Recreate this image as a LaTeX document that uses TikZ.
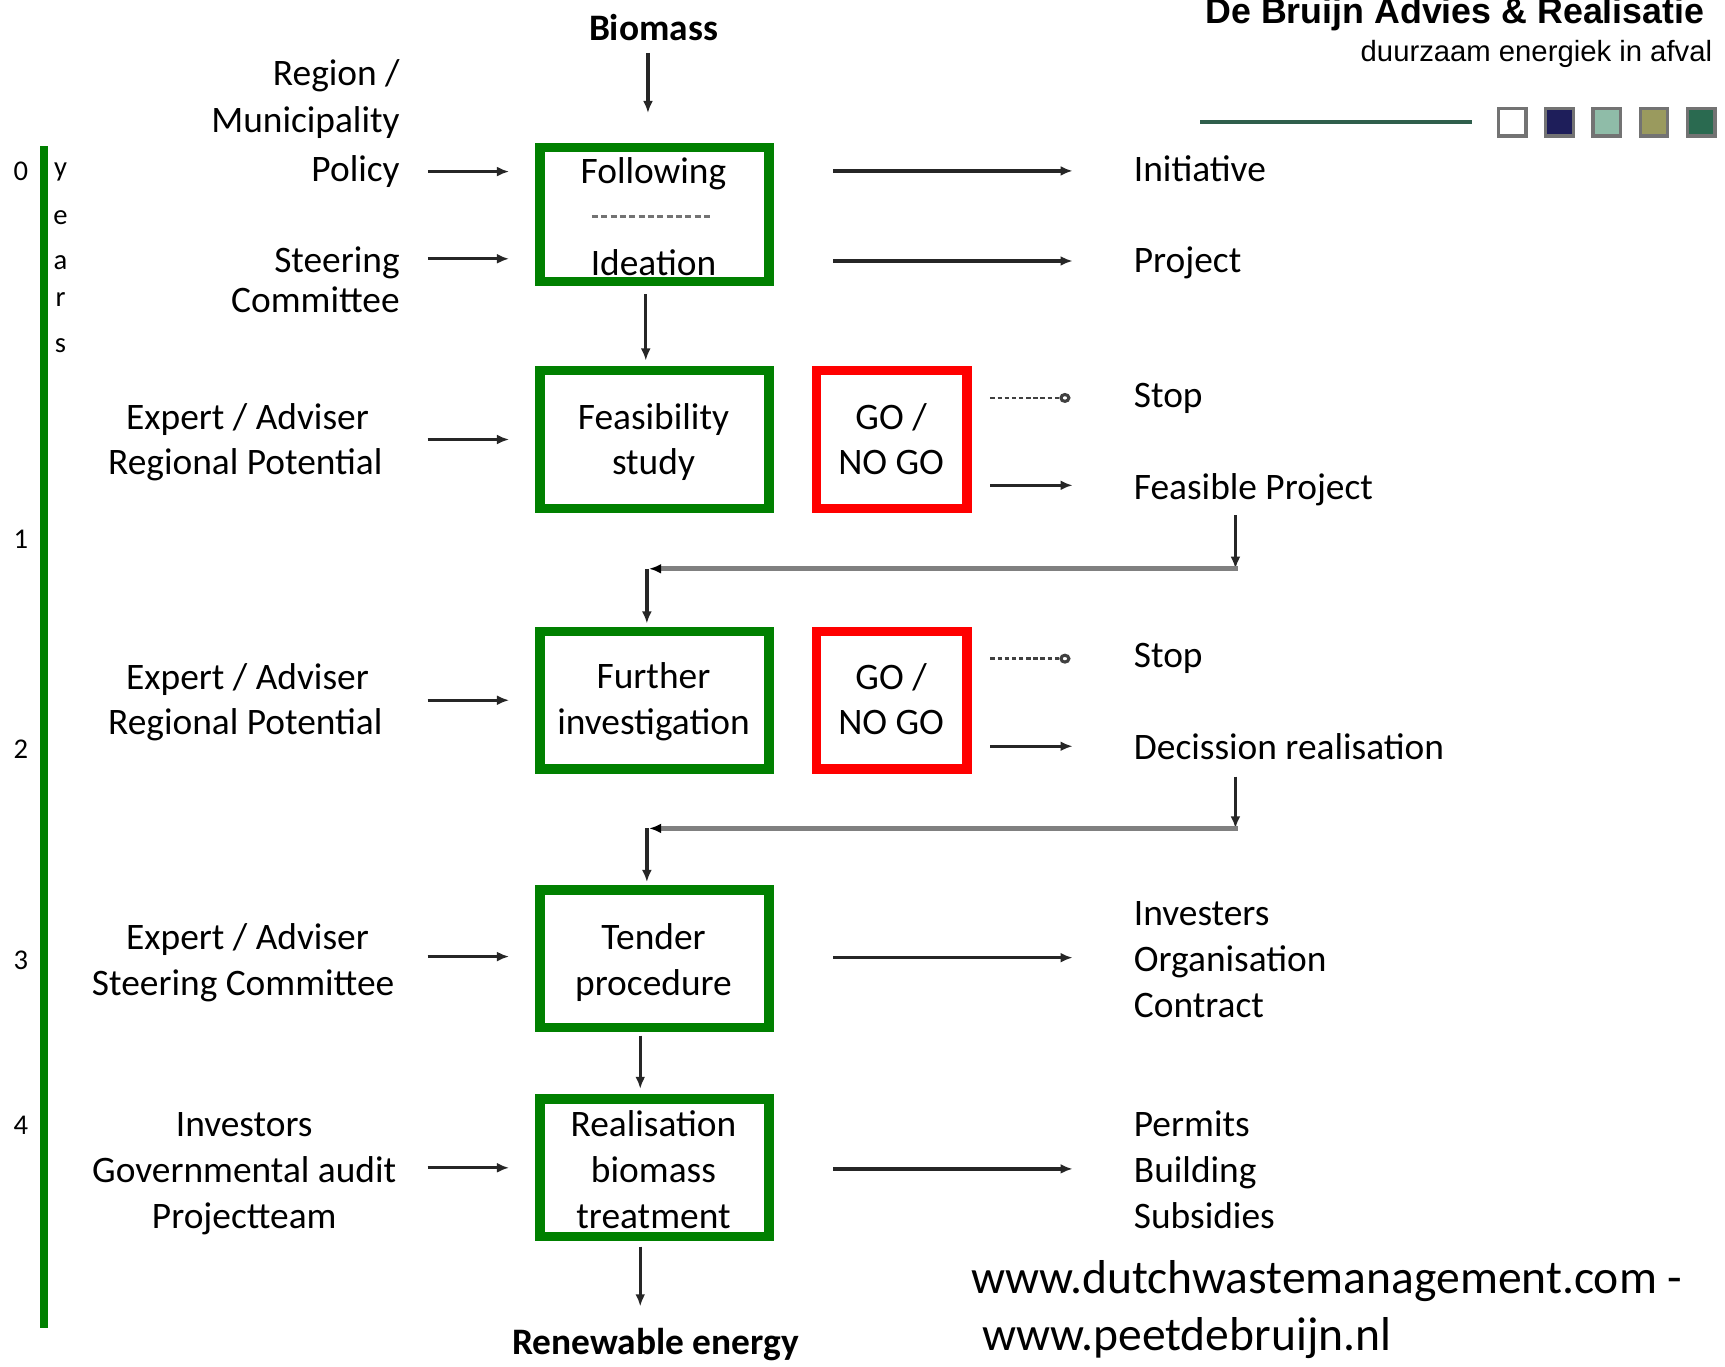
\documentclass[tikz,border=0pt]{standalone}
\usepackage{fontspec}
\setmainfont{Carlito}
\newfontfamily\hdrfont{Liberation Sans}
\usetikzlibrary{arrows.meta,calc}
\definecolor{boxgreen}{HTML}{008000}
\definecolor{boxred}{HTML}{FF0000}
\definecolor{loopgrey}{HTML}{808080}
\definecolor{hdrline}{HTML}{2F5F4C}
\definecolor{sqnavy}{HTML}{1E1E5A}
\definecolor{sqteal}{HTML}{8FBCA8}
\definecolor{sqolive}{HTML}{9A9A5E}
\definecolor{sqgreen}{HTML}{2A6A50}
\newcommand\mainfs{\fontsize{9.67pt}{11.95pt}\selectfont}
\newcommand\yrfs{\fontsize{7.4pt}{9pt}\selectfont}
\newcommand\urlfs{\fontsize{12.3pt}{14.8pt}\selectfont}
\newcommand\hdrfs{\hdrfont\bfseries\fontsize{9.25pt}{11pt}\selectfont}
\newcommand\subfs{\hdrfont\fontsize{7.57pt}{9pt}\selectfont}
\begin{document}
\begin{tikzpicture}[x=0.1mm,y=-0.1mm,
  lbl/.style={inner sep=0pt,font=\mainfs,anchor=base,yshift=-0.2mm},
  lblw/.style={lbl,anchor=base west},
  lble/.style={lbl,anchor=base east},
  yr/.style={inner sep=0pt,font=\yrfs,anchor=base},
  gbox/.style={draw=boxgreen,line width=0.85mm,minimum width=20.8mm,minimum height=12.5mm,inner sep=0pt},
  rbox/.style={draw=boxred,line width=0.85mm,minimum width=13.7mm,minimum height=12.5mm,inner sep=0pt},
  arr/.style={draw=black!85,line width=0.3mm,-{Latex[length=1.1mm,width=0.9mm]}},
  stopline/.style={draw=black!75,line width=0.25mm,dash pattern=on 0.4mm off 0.25mm,-{Circle[open,length=1mm,width=0.9mm,line width=0.28mm]}},
  loopline/.style={draw=loopgrey,line width=0.45mm,-{Latex[length=1.1mm,width=0.9mm,color=black]}},
  sq/.style={draw=black!55,line width=0.3mm}]
\useasboundingbox[fill=white] (0,0) rectangle (1568,1242);

% header
\node[inner sep=0pt,font=\hdrfs,anchor=base east] (hdr) at (1550,21) {De Bruijn Advies \& Realisatie};
\node[inner sep=0pt,font=\subfs,anchor=base east] (sub) at (1557,56) {duurzaam energiek in afval};
\draw[hdrline,line width=0.3mm] (1091,111) -- (1338,111);
\draw[sq,fill=white]   (1362,98.5) rectangle (1387,123.5);
\draw[sq,fill=sqnavy]  (1405,98.5) rectangle (1430,123.5);
\draw[sq,fill=sqteal]  (1448,98.5) rectangle (1473,123.5);
\draw[sq,fill=sqolive] (1491,98.5) rectangle (1516,123.5);
\draw[sq,fill=sqgreen] (1534,98.5) rectangle (1559,123.5);

% time axis
\draw[boxgreen,line width=0.8mm] (40,133) -- (40,1207);
\node[yr] (y0) at (19,164) {0};
\node[yr] (y1) at (19,499) {1};
\node[yr] (y2) at (19,689) {2};
\node[yr] (y3) at (19,881) {3};
\node[yr] (y4) at (19,1031) {4};
\node[yr] (ly) at (55,160) {y};
\node[yr] (le) at (55,204) {e};
\node[yr] (la) at (55,245) {a};
\node[yr] (lr) at (55,279) {r};
\node[yr] (ls) at (55,320) {s};

% boxes
\node[gbox,minimum height=12.2mm] (b1) at (595,195) {};
\node[gbox] (b2) at (595,399.5) {};
\node[gbox] (b3) at (595,636.5) {};
\node[gbox] (b4) at (595,871.5) {};
\node[gbox] (b5) at (595,1061.5) {};
\node[rbox] (r1) at (810.5,399.5) {};
\node[rbox] (r2) at (810.5,636.5) {};

% box texts
\node[lbl] (fol) at (594,165) {Following};
\draw[black!55,line width=0.25mm,dash pattern=on 0.55mm off 0.3mm] ($(b1.center)+(-57,2)$) -- ($(b1.center)+(53,2)$);
\node[lbl] (ide) at (594,248) {Ideation};
\node[lbl] (fea) at (594,388) {Feasibility};
\node[lbl] (stu) at (594,429) {study};
\node[lbl] (fur) at (594,624) {Further};
\node[lbl] (inv) at (594,666) {investigation};
\node[lbl] (ten) at (594,861) {Tender};
\node[lbl] (pro) at (594,903) {procedure};
\node[lbl] (rea) at (594,1031) {Realisation};
\node[lbl] (bio2) at (594,1073) {biomass};
\node[lbl] (tre) at (594,1115) {treatment};
\node[lbl] (go1) at (810,388) {GO /};
\node[lbl] (ng1) at (810,429) {NO GO};
\node[lbl] (go2) at (810,625) {GO /};
\node[lbl] (ng2) at (810,666) {NO GO};

% top / bottom
\node[lbl,font=\mainfs\bfseries] (bio) at (594,35) {Biomass};
\node[lbl,font=\mainfs\bfseries] (ren) at (596,1229) {Renewable energy};

% left labels
\node[lble] (reg) at (364,76) {Region /};
\node[lble] (mun) at (364,118) {Municipality};
\node[lble] (pol) at (364,163) {Policy};
\node[lble] (ste) at (364,246) {Steering};
\node[lble] (com) at (364,282) {Committee};
\node[lbl] (ea1) at (225,388) {Expert / Adviser};
\node[lbl] (rp1) at (223,429) {Regional Potential};
\node[lbl] (ea2) at (225,625) {Expert / Adviser};
\node[lbl] (rp2) at (223,666) {Regional Potential};
\node[lbl] (ea3) at (225,861) {Expert / Adviser};
\node[lbl] (sc3) at (221,903) {Steering Committee};
\node[lbl] (ivs) at (222,1031) {Investors};
\node[lbl] (gau) at (222,1073) {Governmental audit};
\node[lbl] (ptm) at (222,1115) {Projectteam};

% right labels
\node[lblw] (ini) at (1030,163) {Initiative};
\node[lblw] (prj) at (1030,246) {Project};
\node[lblw] (st1) at (1030,368) {Stop};
\node[lblw] (fp) at (1030,452) {Feasible Project};
\node[lblw] (st2) at (1030,605) {Stop};
\node[lblw] (dec) at (1030,688) {Decission realisation};
\node[lblw] (ivr) at (1030,839) {Investers};
\node[lblw] (org) at (1030,881) {Organisation};
\node[lblw] (con) at (1030,923) {Contract};
\node[lblw] (per) at (1030,1031) {Permits};
\node[lblw] (bui) at (1030,1073) {Building};
\node[lblw] (sub2) at (1030,1115) {Subsidies};

% url
\node[inner sep=0pt,font=\urlfs,anchor=base west] (url1) at (882,1176) {www.dutchwastemanagement.com -};
\node[inner sep=0pt,font=\urlfs,anchor=base west] (url2) at (892,1228) {www.peetdebruijn.nl};

% input arrows
\draw[arr] ($(pol.east)+(25,0)$) -- ($(b1.west |- pol.east)+(-24,0)$);
\draw[arr] ($(ste.east)+(25,-4)$) -- ($(b1.west |- ste.east)+(-24,-4)$);
\draw[arr] ($(b2.west)+(-98,0)$) -- ($(b2.west)+(-24,0)$);
\draw[arr] ($(b3.west)+(-98,0)$) -- ($(b3.west)+(-24,0)$);
\draw[arr] ($(b4.west)+(-98,-2)$) -- ($(b4.west)+(-24,-2)$);
\draw[arr] ($(b5.west)+(-98,0)$) -- ($(b5.west)+(-24,0)$);

% output arrows
\draw[arr] ($(b1.east |- ini.west)+(54,2)$) -- ($(ini.west)+(-55,2)$);
\draw[arr] ($(b1.east |- prj.west)+(54,-2)$) -- ($(prj.west)+(-55,-2)$);
\draw[stopline] ($(r1.east |- st1.west)+(17,0)$) -- ($(st1.west)+(-57,0)$);
\draw[arr] ($(r1.east |- fp.west)+(17,-4)$) -- ($(fp.west)+(-55,-4)$);
\draw[stopline] ($(r2.east |- st2.west)+(17,0)$) -- ($(st2.west)+(-57,0)$);
\draw[arr] ($(r2.east |- dec.west)+(17,0)$) -- ($(dec.west)+(-55,0)$);
\draw[arr] ($(b4.east)+(54,-1)$) -- ($(org.west |- b4.east)+(-55,-1)$);
\draw[arr] ($(b5.east)+(54,1)$) -- ($(bui.west |- b5.east)+(-55,1)$);

% vertical flow
\draw[arr,shorten <=1mm,shorten >=2.7mm] ($(bio.south)+(-5,0)$) -- ($(b1.north)+(-6,0)$);
\draw[arr,shorten <=0.7mm,shorten >=0.5mm] ($(b1.south)+(-8,0)$) -- ($(b2.north)+(-8,0)$);
\draw[arr,shorten <=0.3mm,shorten >=0.5mm] ($(b4.south)+(-13,0)$) -- ($(b5.north)+(-13,0)$);
\draw[arr,shorten <=0.5mm,shorten >=1.9mm] ($(b5.south)+(-13,0)$) -- ($(ren.north)+(-14,0)$);

% feedback loops
\coordinate (k1) at (1123,517);
\coordinate (k2) at (590,517);
\coordinate (k3) at (1123,753);
\coordinate (k4) at (590,753);
\draw[arr,shorten <=0.8mm] (k1 |- fp.south) -- (k1);
\draw[loopline] ($(k1)+(2,0)$) -- (k2);
\draw[arr,shorten >=0.3mm] ($(k2)+(-2,0)$) -- ($(b3.north -| k2)+(-2,0)$);
\draw[arr,shorten <=1.5mm] (k3 |- dec.south) -- (k3);
\draw[loopline] ($(k3)+(2,0)$) -- (k4);
\draw[arr,shorten >=0.3mm] ($(k4)+(-2,0)$) -- ($(b4.north -| k4)+(-2,0)$);
\end{tikzpicture}
\end{document}
